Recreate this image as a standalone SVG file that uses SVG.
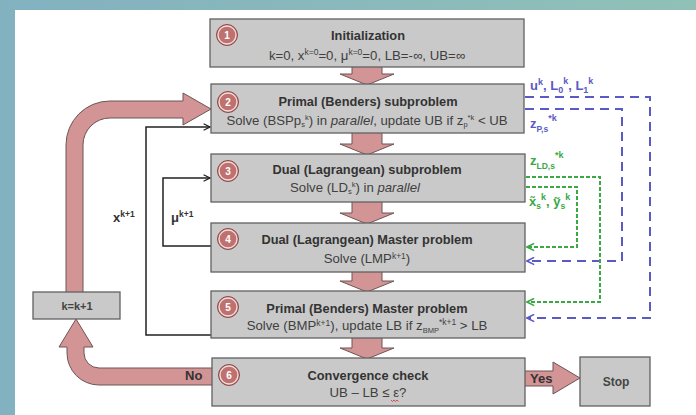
<svg xmlns="http://www.w3.org/2000/svg" width="696" height="415" viewBox="0 0 696 415">
<defs>
<linearGradient id="bg" x1="0" y1="0" x2="1" y2="0">
<stop offset="0" stop-color="#82b1c0"/>
<stop offset="1" stop-color="#90c1b7"/>
</linearGradient>
<marker id="ab" viewBox="0 0 10 10" refX="9" refY="5" markerWidth="8" markerHeight="8" markerUnits="userSpaceOnUse" orient="auto">
<path d="M1,1 L9,5 L1,9" fill="none" stroke="#222" stroke-width="1.6"/>
</marker>
<marker id="abl" viewBox="0 0 10 10" refX="9" refY="5" markerWidth="9" markerHeight="9" markerUnits="userSpaceOnUse" orient="auto">
<path d="M1,1 L9,5 L1,9" fill="none" stroke="#5a5ac6" stroke-width="1.8"/>
</marker>
<marker id="agr" viewBox="0 0 10 10" refX="9" refY="5" markerWidth="9" markerHeight="9" markerUnits="userSpaceOnUse" orient="auto">
<path d="M1,1 L9,5 L1,9" fill="none" stroke="#3aa845" stroke-width="1.8"/>
</marker>
<style>
text{font-family:"Liberation Sans",Arial,sans-serif}
.box{fill:#c9c9c9;stroke:#616161;stroke-width:1.3}
.pink{fill:#d29495;stroke:#6e5555;stroke-width:1}
.circ{fill:#bf716f;stroke:#8a4947;stroke-width:1}
.ring{fill:none;stroke:#f2dede;stroke-width:1.3}
.num{font-size:10px;font-weight:bold;fill:#fff;text-anchor:middle}
.ttl{font-size:12.8px;font-weight:bold;fill:#333;text-anchor:middle}
.sub{font-size:13.2px;fill:#404040;text-anchor:middle}
.blk{fill:none;stroke:#222;stroke-width:1.5}
.bl{fill:none;stroke:#5a5ac6;stroke-width:2;stroke-dasharray:9 6}
.gr{fill:none;stroke:#3aa845;stroke-width:2;stroke-dasharray:4 2}
.lbl{font-weight:bold;font-size:13px;fill:#333}
.blt{font-weight:bold;font-size:13px;fill:#5a5ac6}
.grt{font-weight:bold;font-size:13px;fill:#3aa845}
</style>
</defs>
<rect x="0" y="0" width="696" height="415" fill="url(#bg)"/>
<rect x="15" y="10" width="681" height="405" fill="#ffffff"/>

<g id="connectors">
<path class="pink" d="M352,66 L352,74 L340,74 L367,85 L394,74 L382,74 L382,66 Z"/>
<path class="pink" d="M352,132 L352,144 L340,144 L367,155 L394,144 L382,144 L382,132 Z"/>
<path class="pink" d="M352,201 L352,213 L340,213 L367,224 L394,213 L382,213 L382,201 Z"/>
<path class="pink" d="M352,271 L352,281 L340,281 L367,292 L394,281 L382,281 L382,271 Z"/>
<path class="pink" d="M352,337 L352,348 L340,348 L367,359 L394,348 L382,348 L382,337 Z"/>
<path class="pink" d="M66,293 L66,145 A44,44 0 0 1 110,101 L183,101 L183,93 L211,109 L183,125 L183,118 L110,118 A27,27 0 0 0 83,145 L83,293 Z"/>
<path class="pink" d="M213,368 L99,368 A15,15 0 0 1 84,353 L84,347 L93,347 L76,319 L59,347 L67,347 L67,353 A32,32 0 0 0 99,385 L213,385 Z"/>
<path class="pink" d="M524,371 L553,371 L553,362 L580,378 L553,394 L553,386 L524,386 Z"/>
<path class="blk" d="M211,335 L146,335 L146,127 L210,127" marker-end="url(#ab)"/>
<path class="blk" d="M211,246 L163,246 L163,178 L210,178" marker-end="url(#ab)"/>
<path class="bl" d="M525,97 L650,97 L650,318 L527,318" marker-end="url(#abl)"/>
<path class="bl" d="M525,109 L622,109 L622,261 L527,261" marker-end="url(#abl)"/>
<path class="gr" d="M526,177 L600,177 L600,302 L527,302" marker-end="url(#agr)"/>
<path class="gr" d="M526,187 L577,187 L577,247 L527,247" marker-end="url(#agr)"/>
</g>

<g id="labels">
<text class="lbl" x="185" y="380" style="font-size:13px">No</text>
<text class="lbl" x="530" y="383" style="font-size:13px">Yes</text>
<text class="lbl" x="113" y="222">x<tspan font-size="8.5" dy="-5">k+1</tspan></text>
<text class="lbl" x="171" y="222">μ<tspan font-size="8.5" dy="-5">k+1</tspan></text>
<text class="blt" x="530" y="90">u<tspan font-size="9" dy="-5">k</tspan><tspan dy="5">, L</tspan><tspan font-size="9" dy="3">0</tspan><tspan font-size="9" dy="-9">k</tspan><tspan dy="6">, L</tspan><tspan font-size="9" dy="3">1</tspan><tspan font-size="9" dy="-9">k</tspan></text>
<text class="blt" x="530" y="128">z<tspan font-size="8.5" dy="4">P,s</tspan><tspan font-size="9" dy="-11">*k</tspan></text>
<text class="grt" x="530" y="165">z<tspan font-size="8.5" dy="4">LD,s</tspan><tspan font-size="9" dy="-11">*k</tspan></text>
<text class="grt" x="529" y="206">x̃<tspan font-size="8.5" dy="3">s</tspan><tspan font-size="9" dy="-9">k</tspan><tspan dy="6">, ỹ</tspan><tspan font-size="8.5" dy="3">s</tspan><tspan font-size="9" dy="-9">k</tspan></text>
</g>

<g id="n1">
<rect class="box" x="210" y="19" width="314" height="48"/>
<circle class="circ" cx="227" cy="35" r="10.5"/><circle class="ring" cx="227" cy="35" r="9"/>
<text class="num" x="227" y="38.5">1</text>
<text class="ttl" x="368" y="40">Initialization</text>
<text class="sub" x="367" y="60">k=0, x<tspan font-size="8.5" dy="-5">k=0</tspan><tspan dy="5">=0, μ</tspan><tspan font-size="8.5" dy="-5">k=0</tspan><tspan dy="5">=0, LB=-∞, UB=∞</tspan></text>
</g>

<g id="n2">
<rect class="box" x="211" y="84" width="313" height="49"/>
<circle class="circ" cx="228" cy="102" r="10.5"/><circle class="ring" cx="228" cy="102" r="9"/>
<text class="num" x="228" y="105.5">2</text>
<text class="ttl" x="368" y="106">Primal (Benders) subproblem</text>
<text class="sub" x="367" y="125">Solve (BSPp<tspan font-size="7.5" dy="2">s</tspan><tspan font-size="7.5" dy="-7">k</tspan><tspan dy="5">) in </tspan><tspan font-style="italic">parallel</tspan>, update UB if z<tspan font-size="7.5" dy="2">p</tspan><tspan font-size="7.5" dy="-7">*k</tspan><tspan dy="5"> &lt; UB</tspan></text>
</g>

<g id="n3">
<rect class="box" x="211" y="154" width="314" height="48"/>
<circle class="circ" cx="228" cy="171" r="10.5"/><circle class="ring" cx="228" cy="171" r="9"/>
<text class="num" x="228" y="174.5">3</text>
<text class="ttl" x="367" y="174">Dual (Lagrangean) subproblem</text>
<text class="sub" x="355" y="192">Solve (LD<tspan font-size="7.5" dy="2">s</tspan><tspan font-size="7.5" dy="-7">k</tspan><tspan dy="5">) in </tspan><tspan font-style="italic">parallel</tspan></text>
</g>

<g id="n4">
<rect class="box" x="211" y="223" width="314" height="49"/>
<circle class="circ" cx="228" cy="239" r="10.5"/><circle class="ring" cx="228" cy="239" r="9"/>
<text class="num" x="228" y="242.5">4</text>
<text class="ttl" x="367" y="244">Dual (Lagrangean) Master problem</text>
<text class="sub" x="367" y="263">Solve (LMP<tspan font-size="8.5" dy="-4">k+1</tspan><tspan dy="4">)</tspan></text>
</g>

<g id="n5">
<rect class="box" x="211" y="291" width="314" height="47"/>
<circle class="circ" cx="228" cy="307" r="10.5"/><circle class="ring" cx="228" cy="307" r="9"/>
<text class="num" x="228" y="310.5">5</text>
<text class="ttl" x="367" y="313">Primal (Benders) Master problem</text>
<text class="sub" x="367" y="330">Solve (BMP<tspan font-size="8.5" dy="-4">k+1</tspan><tspan dy="4">), update LB if z</tspan><tspan font-size="7.5" dy="3">BMP</tspan><tspan font-size="8.5" dy="-8">*k+1</tspan><tspan dy="5"> &gt; LB</tspan></text>
</g>

<g id="n6">
<rect class="box" x="212" y="358" width="313" height="48"/>
<circle class="circ" cx="229" cy="375" r="10.5"/><circle class="ring" cx="229" cy="375" r="9"/>
<text class="num" x="229" y="378.5">6</text>
<text class="ttl" x="368" y="380">Convergence check</text>
<text class="sub" x="368" y="397">UB – LB ≤ ε?</text>
<path d="M391,400 l1.5,1.5 l1.5,-1.5 l1.5,1.5 l1.5,-1.5 l1.5,1.5" fill="none" stroke="#d03030" stroke-width="0.8"/>
</g>

<g id="kinc">
<rect class="box" x="33" y="292" width="87" height="27"/>
<text x="77" y="310" style="font-size:11px;font-weight:bold;fill:#444;text-anchor:middle">k=k+1</text>
</g>

<g id="stop">
<rect class="box" x="580" y="357" width="70" height="49"/>
<text x="616" y="386" style="font-size:12px;font-weight:bold;fill:#444;text-anchor:middle">Stop</text>
</g>
</svg>
